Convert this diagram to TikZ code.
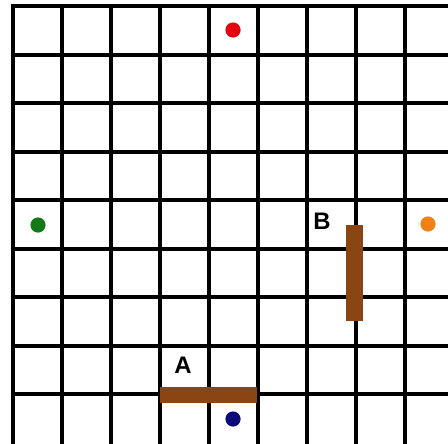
\documentclass[tikz,border=0pt]{standalone}
\usepackage{fontspec}
\setmainfont{Liberation Sans}
\definecolor{wallbrown}{RGB}{139,69,19}
\definecolor{dotred}{RGB}{228,0,12}
\definecolor{dotgreen}{RGB}{18,120,24}
\definecolor{dotorange}{RGB}{240,128,24}
\definecolor{dotblue}{RGB}{10,10,120}
\tikzset{
  gridline/.style={line width=1mm, line cap=rect},
  wall/.style={line width=4.1mm, draw=wallbrown},
  dot/.style={circle, inner sep=0pt, minimum size=3.8mm},
  tag/.style={font=\bfseries\fontsize{17}{17}\selectfont}
}

\begin{document}
\begin{tikzpicture}[x=0.25mm,y=-0.25mm]
\useasboundingbox (0,0) rectangle (448,443);

    % grid
\foreach \i in {0,...,8} {
  \draw[gridline] (13+49*\i,6) -- (13+49*\i,450);
  \draw[gridline] (13,6+48.5*\i) -- (455,6+48.5*\i);
}

    % walls
\coordinate (wa1) at (160,395);
\coordinate (wa2) at (257,395);
\coordinate (wb1) at (354.5,225);
\coordinate (wb2) at (354.5,321);
\draw[wall] (wa1) -- (wa2);
\draw[wall] (wb1) -- (wb2);

    % labels
\node[tag] (A) at (183,365) {A};
\node[tag] (B) at (322,221) {B};

    % dots
\node[dot, fill=dotred] (red) at (233,30) {};
\node[dot, fill=dotgreen] (green) at (38,225) {};
\node[dot, fill=dotorange] (orange) at (428,224) {};
\node[dot, fill=dotblue] (blue) at (233,419) {};

\end{tikzpicture}
\end{document}
